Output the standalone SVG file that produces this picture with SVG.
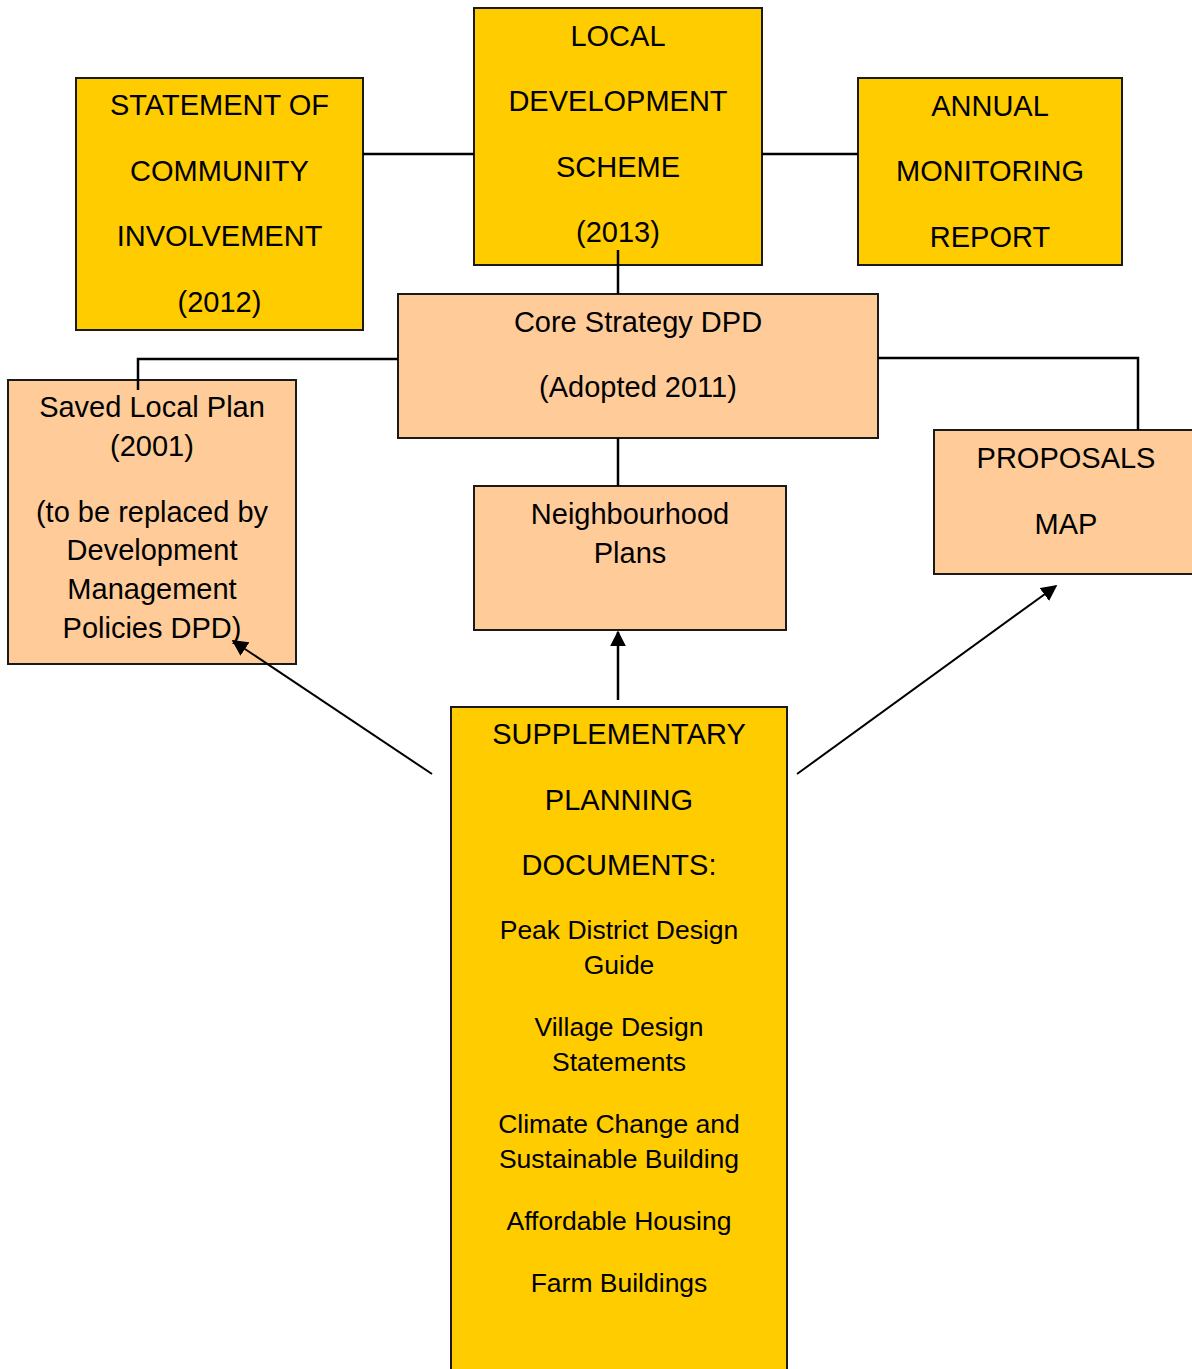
<svg xmlns="http://www.w3.org/2000/svg" width="1192" height="1369" viewBox="0 0 1192 1369">
<defs>
<style>
.y{fill:#FFCC00;stroke:#1a1a1a;stroke-width:2}
.p{fill:#FFCC99;stroke:#1a1a1a;stroke-width:2}
text{font-family:"Liberation Sans",Arial,sans-serif;font-size:29px;fill:#000;text-anchor:middle}
.s{font-size:26.5px}
.c{stroke:#000;stroke-width:2.5;fill:none}
</style>
<marker id="ah2" viewBox="0 0 10 10" refX="9" refY="5" markerWidth="16" markerHeight="16" markerUnits="userSpaceOnUse" orient="auto"><path d="M0,0 L10,5 L0,10 z" fill="#000"/></marker>
</defs>
<g id="sci">
<rect class="y" x="76" y="78" width="287" height="252"/>
<text x="219.5" y="115">STATEMENT OF</text>
<text x="219.5" y="181">COMMUNITY</text>
<text x="219.5" y="246">INVOLVEMENT</text>
<text x="219.5" y="312">(2012)</text>
</g>
<g id="lds">
<rect class="y" x="474" y="8" width="288" height="257"/>
<text x="618" y="46">LOCAL</text>
<text x="618" y="111">DEVELOPMENT</text>
<text x="618" y="177">SCHEME</text>
<text x="618" y="242">(2013)</text>
</g>
<g id="amr">
<rect class="y" x="858" y="78" width="264" height="187"/>
<text x="990" y="116">ANNUAL</text>
<text x="990" y="181">MONITORING</text>
<text x="990" y="247">REPORT</text>
</g>
<g id="core">
<rect class="p" x="398" y="294" width="480" height="144"/>
<text x="638" y="332">Core Strategy DPD</text>
<text x="638" y="397">(Adopted 2011)</text>
</g>
<g id="saved">
<rect class="p" x="8" y="380" width="288" height="284"/>
<text x="152" y="417">Saved Local Plan</text>
<text x="152" y="456">(2001)</text>
<text x="152" y="522">(to be replaced by</text>
<text x="152" y="560">Development</text>
<text x="152" y="599">Management</text>
<text x="152" y="638">Policies DPD)</text>
</g>
<g id="neighbourhood">
<rect class="p" x="474" y="486" width="312" height="144"/>
<text x="630" y="524">Neighbourhood</text>
<text x="630" y="563">Plans</text>
</g>
<g id="proposals">
<rect class="p" x="934" y="430" width="262" height="144"/>
<text x="1066" y="468">PROPOSALS</text>
<text x="1066" y="534">MAP</text>
</g>
<g id="spd">
<rect class="y" x="451" y="707" width="336" height="670"/>
<text x="619" y="744">SUPPLEMENTARY</text>
<text x="619" y="810">PLANNING</text>
<text x="619" y="875">DOCUMENTS:</text>
<text class="s" x="619" y="939">Peak District Design</text>
<text class="s" x="619" y="974">Guide</text>
<text class="s" x="619" y="1036">Village Design</text>
<text class="s" x="619" y="1071">Statements</text>
<text class="s" x="619" y="1133">Climate Change and</text>
<text class="s" x="619" y="1168">Sustainable Building</text>
<text class="s" x="619" y="1230">Affordable Housing</text>
<text class="s" x="619" y="1292">Farm Buildings</text>
</g>
<g id="connectors">
<line class="c" x1="363" y1="154" x2="474" y2="154"/>
<line class="c" x1="762" y1="154" x2="858" y2="154"/>
<line class="c" x1="618" y1="250" x2="618" y2="294"/>
<polyline class="c" points="398,359 138,359 138,390"/>
<polyline class="c" points="878,358 1138,358 1138,430"/>
<line class="c" x1="618" y1="438" x2="618" y2="486"/>
<line x1="618" y1="700" x2="618" y2="632" stroke="#000" stroke-width="2.5" marker-end="url(#ah2)"/>
<line x1="432" y1="774" x2="233" y2="641" stroke="#000" stroke-width="2" marker-end="url(#ah2)"/>
<line x1="797" y1="774" x2="1056" y2="586" stroke="#000" stroke-width="2" marker-end="url(#ah2)"/>
</g>
</svg>
